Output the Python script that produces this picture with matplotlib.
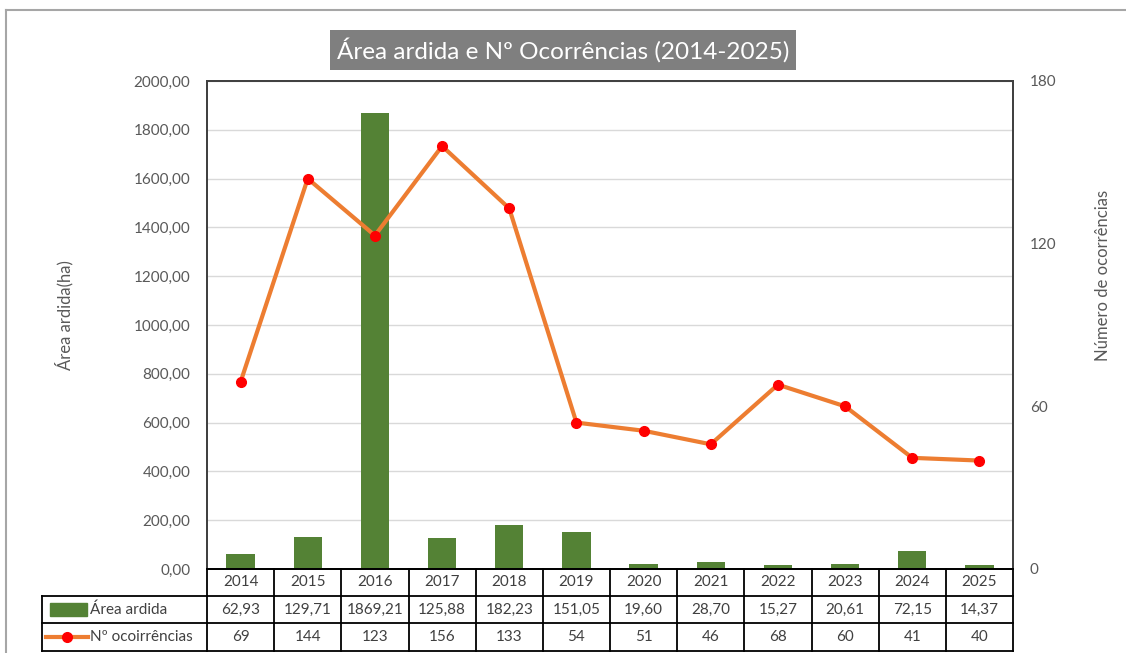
import numpy as np
import matplotlib.pyplot as plt
from matplotlib.transforms import blended_transform_factory
from matplotlib.patches import Rectangle
from matplotlib.lines import Line2D

plt.rcParams['font.family'] = ['Lato', 'DejaVu Sans']

years = ['2014', '2015', '2016', '2017', '2018', '2019', '2020', '2021', '2022', '2023', '2024', '2025']
area = [62.93, 129.71, 1869.21, 125.88, 182.23, 151.05, 19.60, 28.70, 15.27, 20.61, 72.15, 14.37]
ocorr = [69, 144, 123, 156, 133, 54, 51, 46, 68, 60, 41, 40]

title = 'Área ardida e Nº Ocorrências (2014-2025)'
row_labels = ['Área ardida', 'Nº ocoirrências']

green = '#548235'
orange = '#ED7D31'
red = '#FF0000'
txt = '#595959'

W, H = 1126, 653
fig = plt.figure(figsize=(W / 100, H / 100), dpi=100)


def fx(px):
    return px / W


def fy(py):
    return 1 - py / H


def comma(v):
    return f'{v:.2f}'.replace('.', ',')


ax = fig.add_axes([fx(207), fy(569), fx(1013) - fx(207), fy(81) - fy(569)])
x = np.arange(len(years))
ax.bar(x, area, width=0.42, color=green, zorder=2)
ax.set_xlim(-0.5, len(years) - 0.5)
ax.set_ylim(0, 2000)
yt = np.arange(0, 2001, 200)
ax.set_yticks(yt)
ax.set_yticklabels([comma(v) for v in yt])
ax.set_xticks([])
ax.grid(axis='y', color='#D9D9D9', lw=1)
ax.set_axisbelow(True)
ax.tick_params(axis='y', length=0, pad=12, colors=txt, labelsize=11)

ax2 = ax.twinx()
ax2.plot(x, ocorr, color=orange, lw=3, marker='o', ms=7, mfc=red, mec=red, zorder=3)
ax2.set_ylim(0, 180)
ax2.set_yticks([0, 60, 120, 180])
ax2.tick_params(axis='y', length=0, pad=12, colors=txt, labelsize=11)

for a in (ax, ax2):
    for s in a.spines.values():
        s.set_color('#404040')
        s.set_linewidth(1.3)
    a.spines['bottom'].set_color('black')

# title
fig.text(0.5, fy(50), title, ha='center', va='center', color='white', fontsize=17.5,
         bbox=dict(facecolor='#7F7F7F', edgecolor='none', boxstyle='square,pad=0.3'))

# axis titles
fig.text(fx(64), fy(315), 'Área ardida(ha)', rotation=90, ha='center', va='center',
         color=txt, fontsize=12)
fig.text(fx(1103), fy(275), 'Número de ocorrências', rotation=90, ha='center', va='center',
         color=txt, fontsize=12)

# data table
tr = blended_transform_factory(ax.transData, fig.transFigure)
rows_y = [569, 596, 623, 651]
n = len(years)
lc = 'black'
for i in range(n + 1):
    fig.add_artist(Line2D([i - 0.5, i - 0.5], [fy(rows_y[0]), fy(rows_y[-1])],
                          transform=tr, color=lc, lw=1.3))
for yy in rows_y[1:]:
    fig.add_artist(Line2D([fx(42), fx(1013)], [fy(yy), fy(yy)], color=lc, lw=1.3))
fig.add_artist(Line2D([fx(42), fx(42)], [fy(rows_y[1]), fy(rows_y[-1])], color=lc, lw=1.3))

row_vals = [years, [comma(v) for v in area], [str(v) for v in ocorr]]
for r, vals in enumerate(row_vals):
    yc = fy((rows_y[r] + rows_y[r + 1]) / 2)
    for i, v in enumerate(vals):
        fig.text(0, yc, v, transform=tr, ha='center', va='center', color='#404040',
                 fontsize=11).set_x(i)

# legend keys inside table
yc1 = fy((rows_y[1] + rows_y[2]) / 2)
yc2 = fy((rows_y[2] + rows_y[3]) / 2)
fig.add_artist(Rectangle((fx(50), yc1 - 6.5 / H), fx(37), 13 / H, color=green))
fig.text(fx(90), yc1, row_labels[0], ha='left', va='center', color='#404040', fontsize=11)
fig.add_artist(Line2D([fx(46), fx(88)], [yc2, yc2], color=orange, lw=3))
fig.add_artist(Line2D([fx(67)], [yc2], marker='o', ms=7, mfc=red, mec=red))
fig.text(fx(90), yc2, row_labels[1], ha='left', va='center', color='#404040', fontsize=11)

# chart border
fig.add_artist(Line2D([fx(6), fx(6)], [0, fy(10)], color='#A6A6A6', lw=1.5))
fig.add_artist(Line2D([fx(6), 1], [fy(10), fy(10)], color='#A6A6A6', lw=1.5))

fig.savefig('out.png', dpi=100)
